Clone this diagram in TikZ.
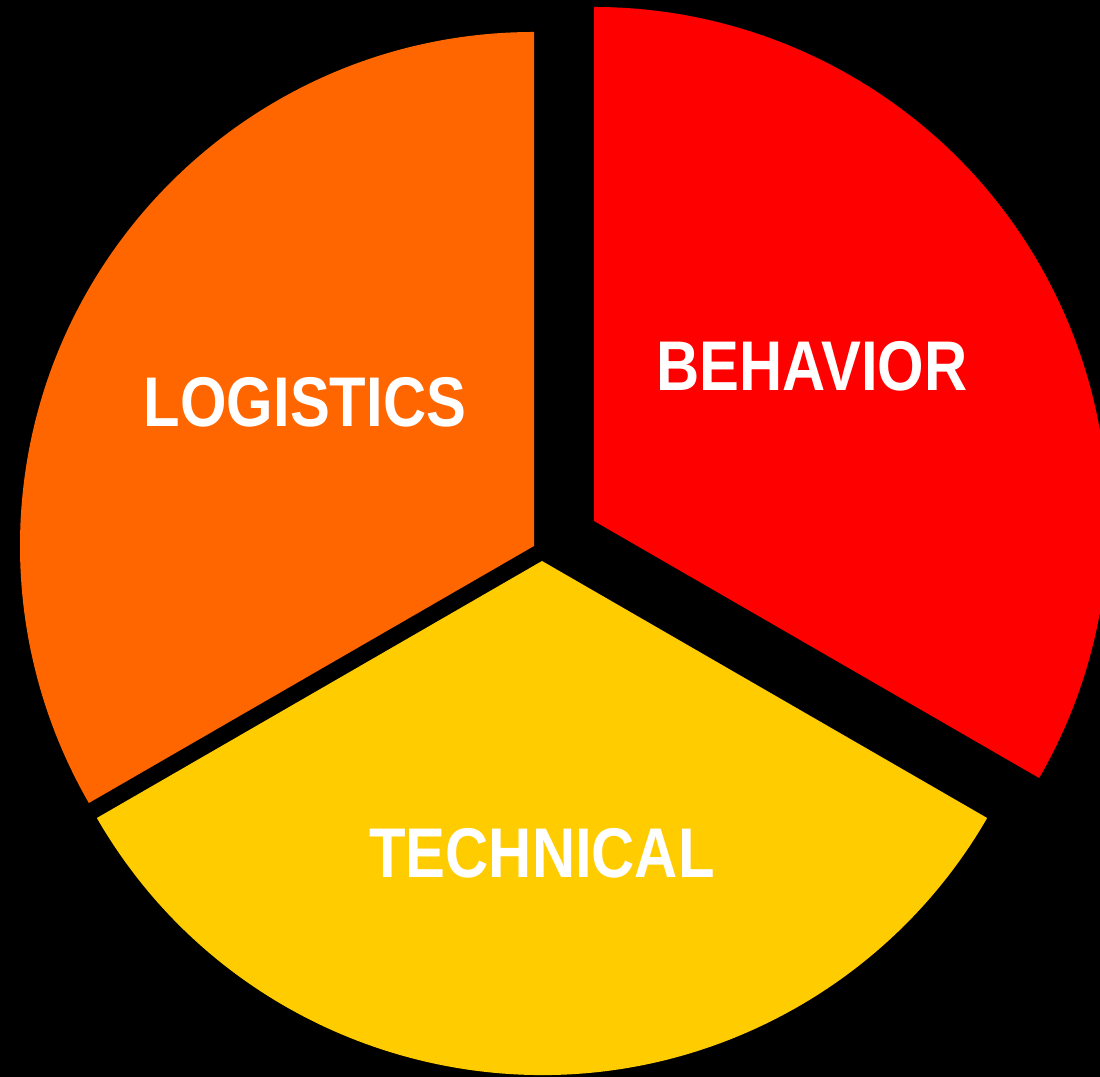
\documentclass[tikz,border=0pt]{standalone}
\usepackage{fontspec}
\setmainfont{Liberation Sans}
\definecolor{logisticsorange}{HTML}{FF6600}
\definecolor{behaviorred}{HTML}{FF0000}
\definecolor{technicalyellow}{HTML}{FFCC00}

\begin{document}
\begin{tikzpicture}
[
    x=0.01cm, y=-0.01cm,
    slicelabel/.style={text=white, font=\fontsize{20}{24}\selectfont\bfseries, xscale=0.85},
]
\fill[black] (0,0) rectangle (1100,1077);
\useasboundingbox (0,0) rectangle (1100,1077);
\clip (0,0) rectangle (1100,1077);
% y runs downwards, so angles are mirrored
\coordinate (logc) at (534,546);
\coordinate (behc) at (594,521);
\coordinate (tecc) at (542,561);
\fill[logisticsorange] (logc) -- ++(-90:514) arc[start angle=-90, end angle=-210, radius=514] -- cycle;
\fill[behaviorred] (behc) -- ++(30:514) arc[start angle=30, end angle=-90, radius=514] -- cycle;
\fill[technicalyellow] (tecc) -- ++(-210:514) arc[start angle=-210, end angle=-330, radius=514] -- cycle;
\node[slicelabel] (logistics) at (305,402) {LOGISTICS};
\node[slicelabel] (behavior) at (812,366) {BEHAVIOR};
\node[slicelabel] (technical) at (542,853) {TECHNICAL};
\end{tikzpicture}
\end{document}
